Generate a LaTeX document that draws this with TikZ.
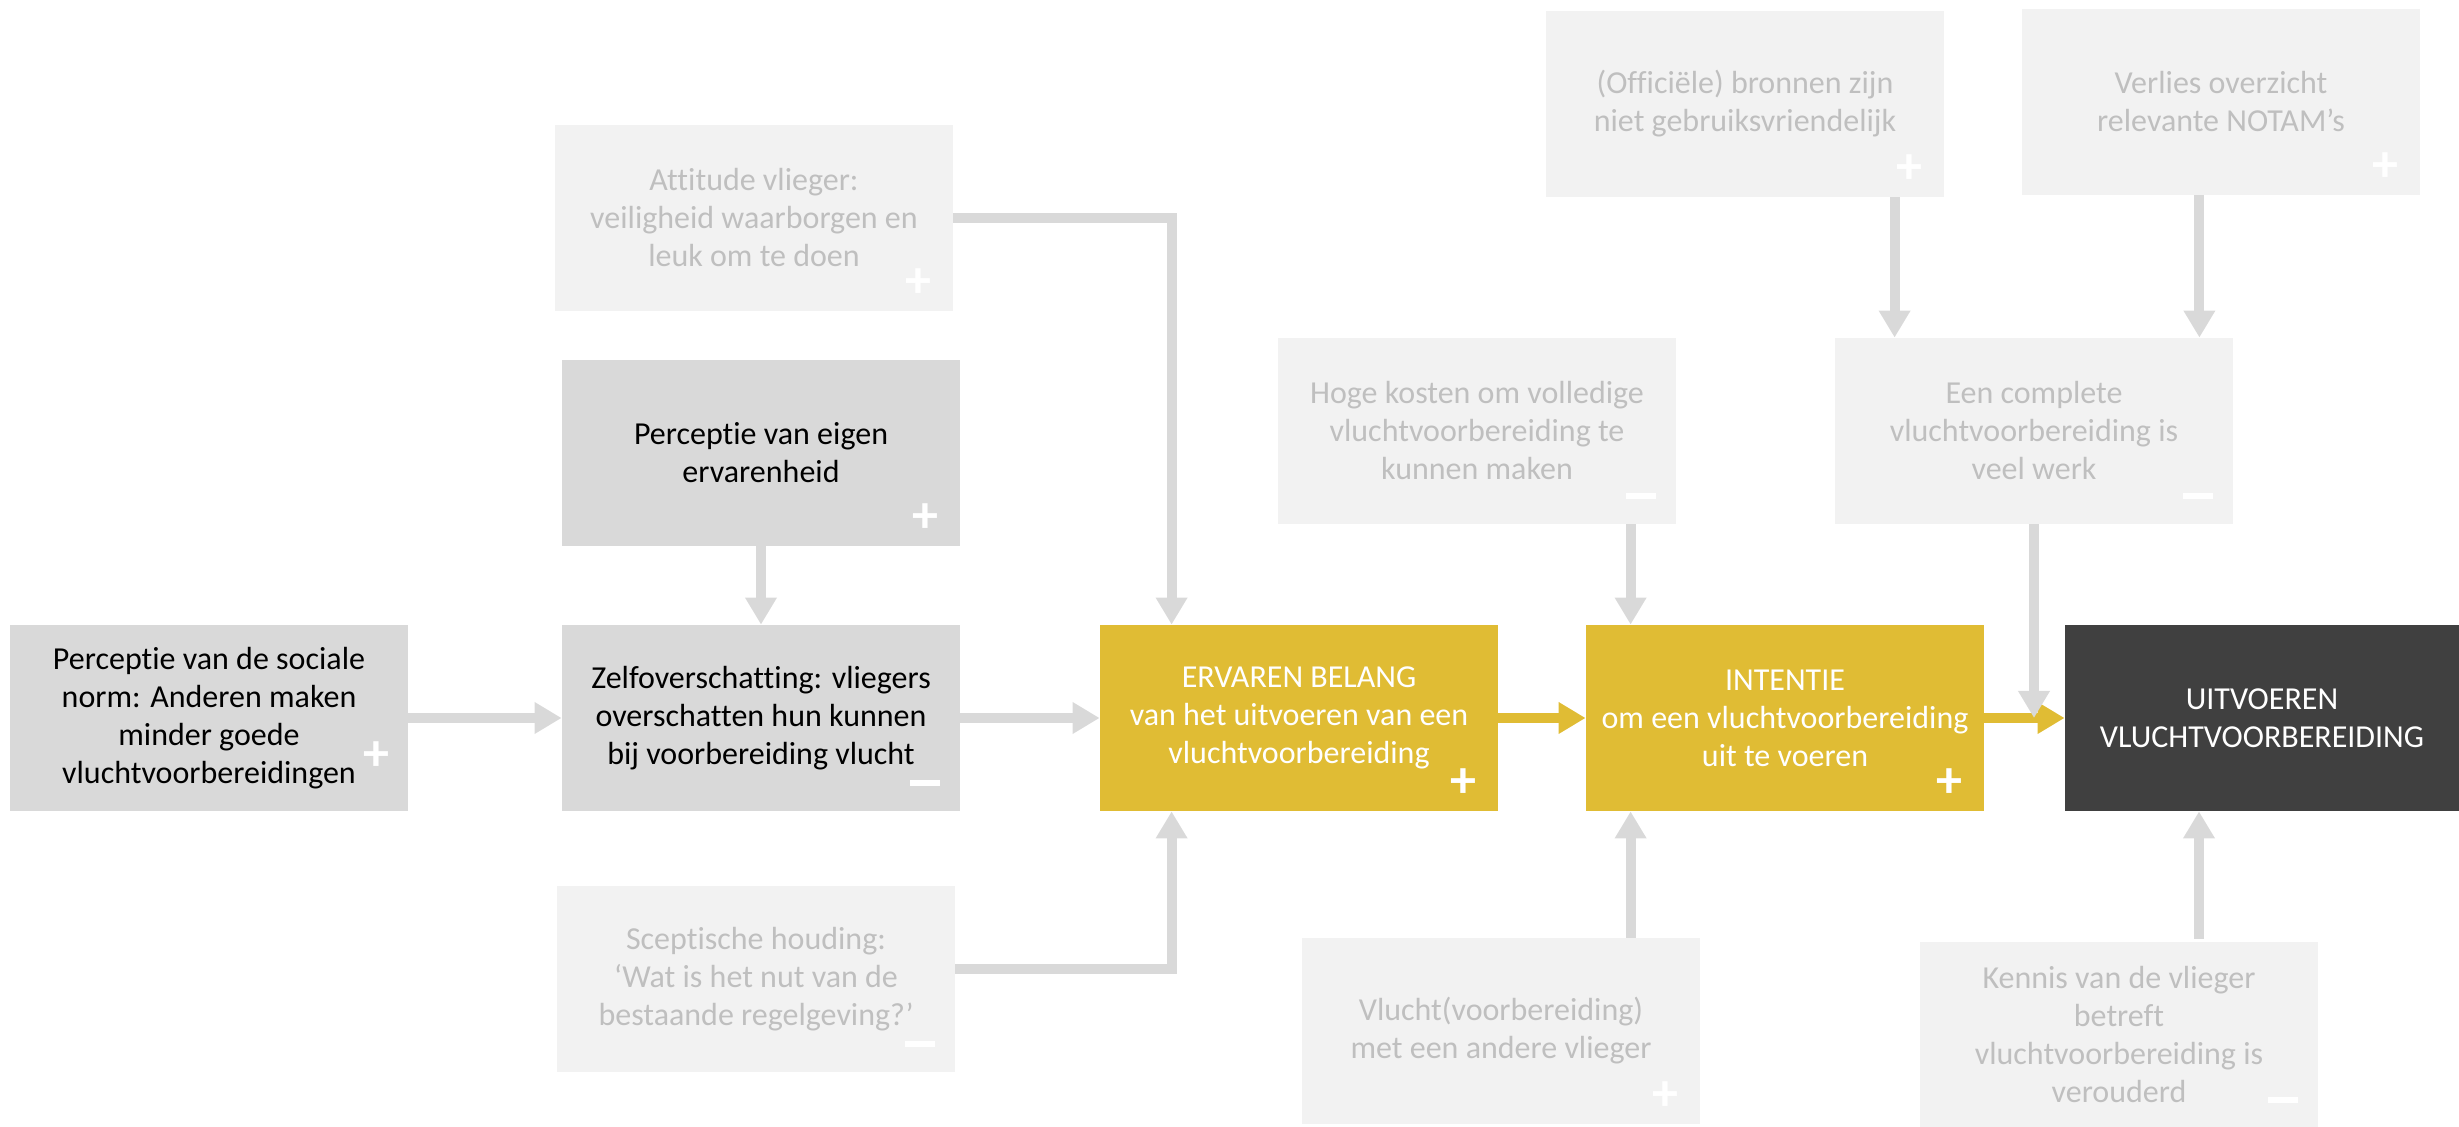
\documentclass[tikz,border=0pt]{standalone}
\usepackage{fontspec}
\setmainfont{Carlito}[Ligatures={TeX,NoCommon}]
\usetikzlibrary{arrows.meta}
\definecolor{faintFill}{HTML}{F2F2F2}
\definecolor{faintText}{HTML}{BFBFBF}
\definecolor{midFill}{HTML}{D9D9D9}
\definecolor{goldFill}{HTML}{E0BC34}
\definecolor{darkFill}{HTML}{404040}
\definecolor{linkGray}{HTML}{D9D9D9}
\newcommand{\minsgn}{\rule{15pt}{3pt}}

\begin{document}
\begin{tikzpicture}[x=0.5pt, y=-0.5pt,
  box/.style={rectangle, minimum width=199pt, minimum height=93pt, inner sep=0pt,
    align=center, font=\fontsize{16}{19}\selectfont},
  lightbox/.style={box, fill=faintFill, text=faintText},
  midbox/.style={box, fill=midFill, text=black},
  goldbox/.style={box, fill=goldFill, text=white},
  darkbox/.style={box, fill=darkFill, text=white},
  sgn/.style={text=white, inner sep=0pt, font=\fontsize{26}{26}\selectfont\bfseries},
  link/.style={color=linkGray, line width=5pt, -{Triangle[length=13.5pt, width=15pt]}},
  goldlink/.style={link, color=goldFill}]
\useasboundingbox (0,0) rectangle (2459,1127);

\node[midbox] (norm) at (209,718) {Perceptie van de sociale\\norm: Anderen maken\\minder goede\\vluchtvoorbereidingen};
\node[midbox] (zelf) at (761,718) {Zelfoverschatting: vliegers\\overschatten hun kunnen\\bij voorbereiding vlucht};
\node[midbox] (ervaring) at (761,453) {Perceptie van eigen\\ervarenheid};
\node[lightbox] (attitude) at (754,218) {Attitude vlieger:\\veiligheid waarborgen en\\leuk om te doen};
\node[lightbox] (scepsis) at (756,979) {Sceptische houding:\\‘Wat is het nut van de\\bestaande regelgeving?’};
\node[goldbox] (belang) at (1299,718) {ERVAREN BELANG\\van het uitvoeren van een\\vluchtvoorbereiding};
\node[goldbox] (intentie) at (1785,718) {INTENTIE\\om een vluchtvoorbereiding\\uit te voeren};
\node[darkbox, minimum width=197pt] (uitvoer) at (2262,718) {UITVOEREN\\VLUCHTVOORBEREIDING};
\node[lightbox] (kosten) at (1477,431) {Hoge kosten om volledige\\vluchtvoorbereiding te\\kunnen maken};
\node[lightbox] (werk) at (2034,431) {Een complete\\vluchtvoorbereiding is\\veel werk};
\node[lightbox] (bronnen) at (1745,104) {(Officiële) bronnen zijn\\niet gebruiksvriendelijk};
\node[lightbox] (notam) at (2221,102) {Verlies overzicht\\relevante NOTAM’s};
\node[lightbox] (ander) at (1501,1031) {Vlucht(voorbereiding)\\met een andere vlieger};
\node[lightbox] (kennis) at (2119,1035) {Kennis van de vlieger\\betreft\\vluchtvoorbereiding is\\verouderd};

\node[sgn] (normsgn) at ([shift={(-16pt,27.5pt)}]norm.south east) {+};
\foreach \n/\s in {zelf/\minsgn, ervaring/+, attitude/+, scepsis/\minsgn, belang/+,
    intentie/+, kosten/\minsgn, werk/\minsgn, bronnen/+, notam/+, ander/+, kennis/\minsgn}
  \node[sgn] (\n sgn) at ([shift={(-17.5pt,14pt)}]\n.south east) {\s};

\coordinate (belangIn1) at ([xshift=36pt]belang.north west);
\coordinate (belangIn2) at ([xshift=36pt]belang.south west);
\coordinate (intentieIn1) at ([xshift=22.5pt]intentie.north west);
\coordinate (intentieIn2) at ([xshift=22.5pt]intentie.south west);
\coordinate (werkIn1) at ([xshift=30pt]werk.north west);
\coordinate (werkIn2) at ([xshift=-17pt]werk.north east);
\coordinate (uitvoerIn) at ([xshift=-31.5pt]uitvoer.south);

\draw[link] (norm.east) -- (zelf.west);
\draw[link] (ervaring.south) -- (zelf.north);
\draw[link] (zelf.east) -- (belang.west);
\draw[link] (attitude.east) -| (belangIn1);
\draw[link] ([yshift=5pt]scepsis.east) -| (belangIn2);
\draw[link] (kosten.south -| intentieIn1) -- (intentieIn1);
\draw[link] (ander.north -| intentieIn2) -- (intentieIn2);
\draw[link] (bronnen.south -| werkIn1) -- (werkIn1);
\draw[link] (notam.south -| werkIn2) -- (werkIn2);
\draw[goldlink] (belang.east) -- (intentie.west);
\draw[goldlink] (intentie.east) -- (uitvoer.west);
\draw[link] (werk.south) -- (werk.south |- uitvoer.west);
\draw[link] ([yshift=1.5pt]kennis.north -| uitvoerIn) -- (uitvoerIn);
\end{tikzpicture}
\end{document}
